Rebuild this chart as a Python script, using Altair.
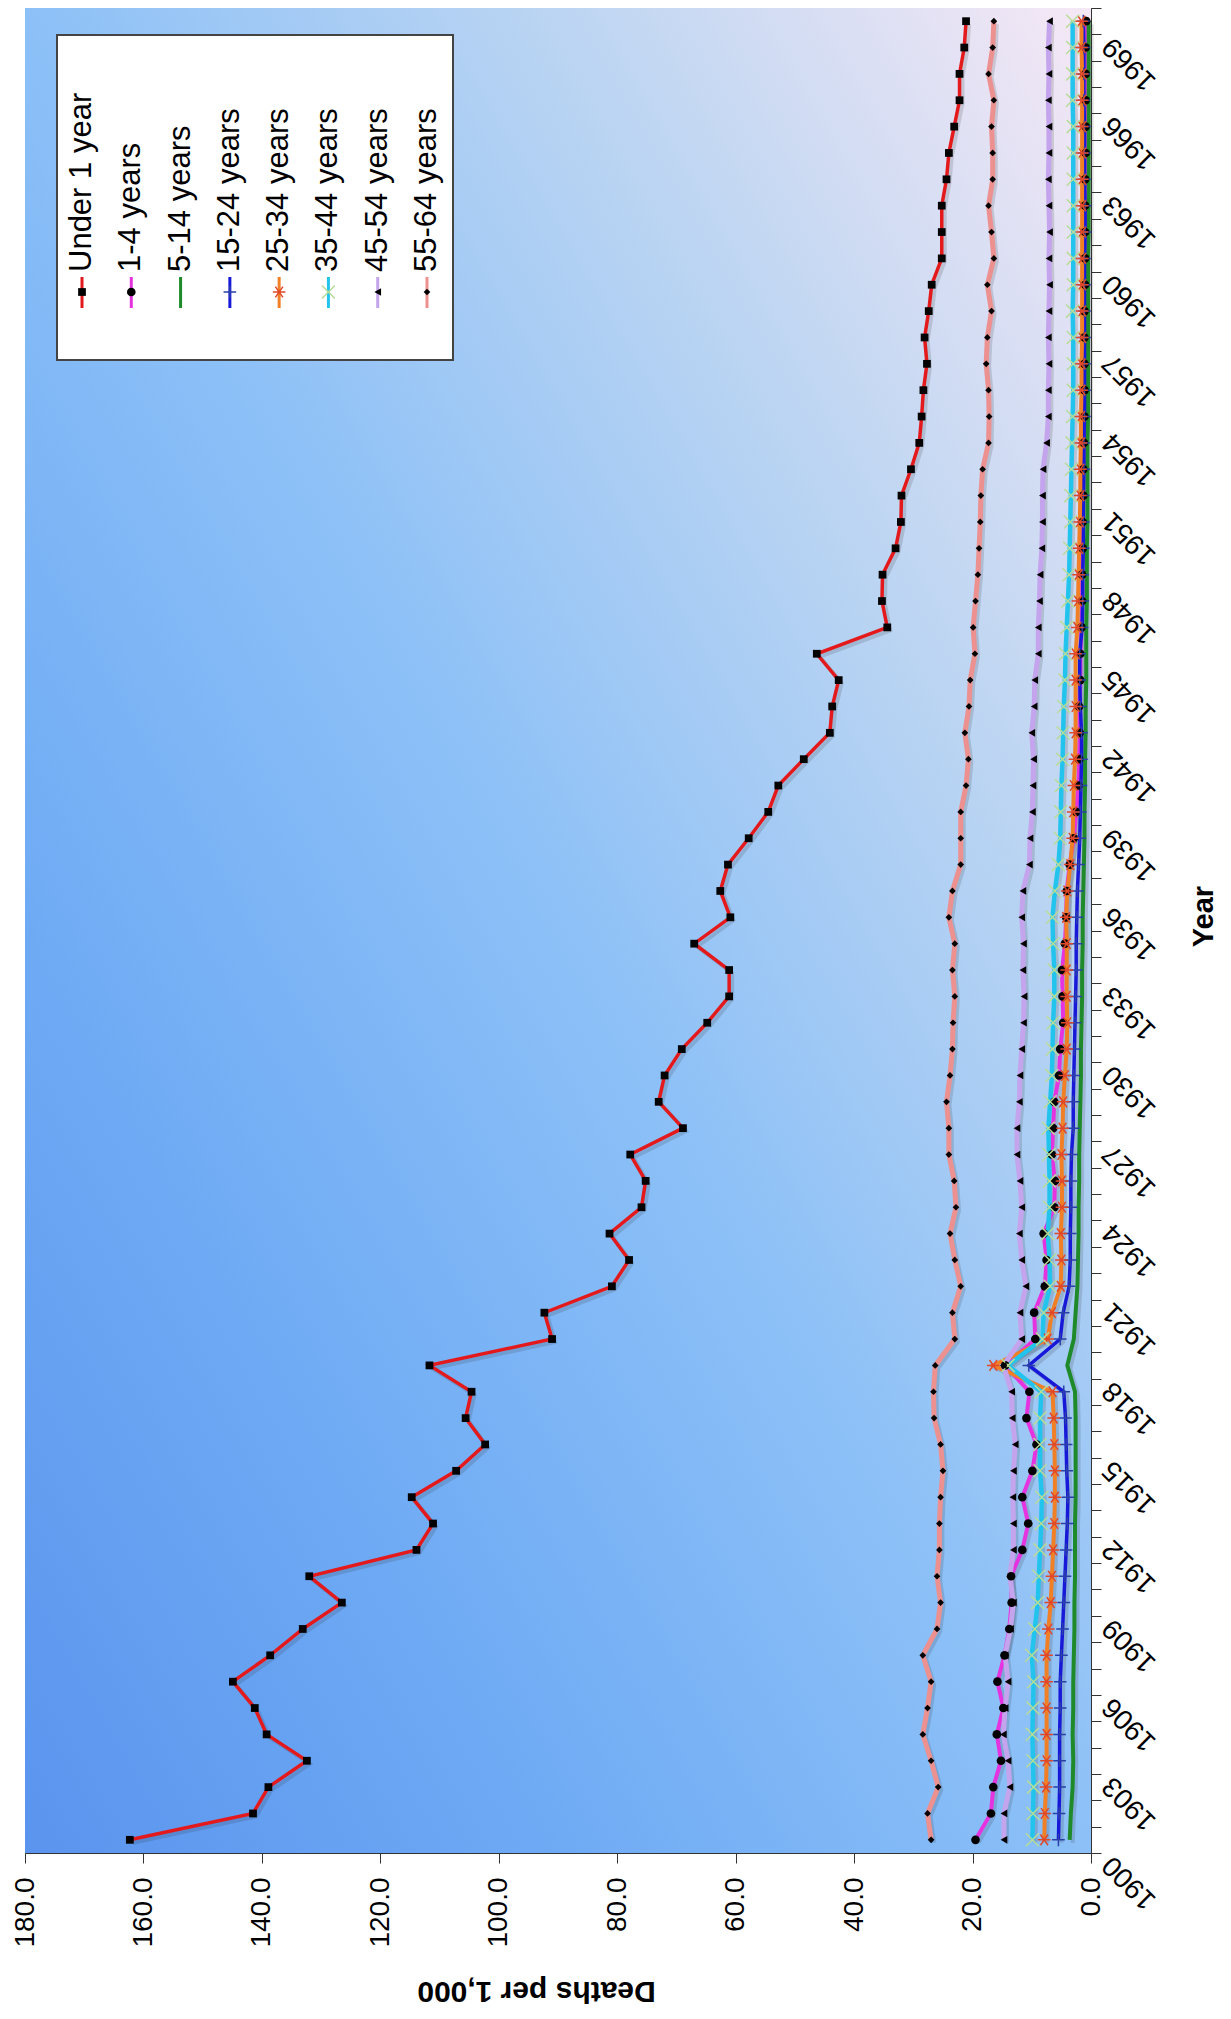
import altair as alt
import pandas as pd

FONT = "Liberation Sans"

years = list(range(1900, 1970))
series_names = ["Under 1 year", "1-4 years", "5-14 years", "15-24 years",
                "25-34 years", "35-44 years", "45-54 years", "55-64 years"]

under_1 = [162.3, 141.5, 138.9, 132.4, 139.2, 141.2, 144.9, 138.6, 133.1, 126.5,
           132.0, 113.9, 111.1, 114.7, 107.2, 102.3, 105.6, 104.6, 111.7, 91.0,
           92.3, 80.9, 78.0, 81.3, 75.9, 75.2, 77.8, 68.9, 73.0, 72.0,
           69.1, 64.8, 61.1, 61.1, 67.0, 60.9, 62.6, 61.3, 57.8, 54.5,
           52.8, 48.5, 44.1, 43.7, 42.6, 46.3, 34.4, 35.3, 35.2, 33.0,
           32.1, 32.0, 30.4, 29.0, 28.6, 28.3, 27.7, 28.1, 27.4, 26.9,
           25.2, 25.2, 25.2, 24.4, 24.0, 23.1, 22.2, 22.2, 21.4, 21.1]
age_1_4 = [19.5, 16.9, 16.5, 15.2, 15.9, 14.8, 15.8, 14.6, 13.8, 13.4,
           13.5, 11.6, 10.6, 11.6, 9.9, 9.2, 10.9, 10.4, 14.5, 9.4,
           9.6, 7.8, 7.5, 8.0, 6.2, 6.1, 6.6, 6.4, 6.2, 5.4,
           5.2, 4.7, 4.8, 4.9, 4.4, 4.2, 4.1, 3.6, 2.9, 2.5,
           2.1, 2.0, 1.9, 2.0, 1.8, 1.8, 1.6, 1.5, 1.5, 1.4,
           1.4, 1.3, 1.3, 1.2, 1.1, 1.1, 1.1, 1.1, 1.1, 1.0,
           1.0, 1.0, 1.0, 1.0, 0.9, 0.9, 0.9, 0.9, 0.9, 0.8]
age_5_14 = [3.6, 3.4, 3.1, 3.0, 3.1, 3.0, 3.0, 2.9, 2.8, 2.8,
            2.7, 2.7, 2.7, 2.6, 2.6, 2.6, 2.6, 2.7, 4.0, 2.9,
            2.6, 2.3, 2.2, 2.1, 2.1, 2.0, 2.0, 1.9, 1.8, 1.7,
            1.7, 1.6, 1.5, 1.5, 1.4, 1.4, 1.3, 1.2, 1.1, 1.1,
            1.0, 1.0, 0.9, 0.9, 0.8, 0.8, 0.8, 0.7, 0.7, 0.7,
            0.6, 0.6, 0.6, 0.6, 0.5, 0.5, 0.5, 0.5, 0.5, 0.5,
            0.5, 0.4, 0.4, 0.4, 0.4, 0.4, 0.4, 0.4, 0.4, 0.4]
age_15_24 = [5.5, 5.4, 5.3, 5.3, 5.3, 5.2, 5.2, 5.0, 4.8, 4.6,
             4.4, 4.2, 4.0, 3.9, 4.1, 4.2, 4.3, 4.6, 10.5, 5.2,
             4.7, 3.7, 3.5, 3.5, 3.4, 3.4, 3.3, 3.0, 3.0, 2.9,
             2.8, 2.7, 2.6, 2.5, 2.5, 2.4, 2.3, 2.1, 1.9, 1.8,
             1.7, 1.6, 1.6, 1.8, 1.9, 1.9, 1.5, 1.4, 1.4, 1.3,
             1.3, 1.3, 1.2, 1.2, 1.1, 1.1, 1.1, 1.1, 1.1, 1.1,
             1.1, 1.0, 1.0, 1.1, 1.1, 1.1, 1.2, 1.2, 1.2, 1.3]
age_25_34 = [7.9, 7.8, 7.6, 7.5, 7.5, 7.5, 7.5, 7.5, 7.2, 6.8,
             6.6, 6.4, 6.2, 6.1, 6.1, 6.2, 6.3, 6.5, 16.5, 7.3,
             6.6, 5.1, 5.0, 5.1, 4.9, 4.9, 5.0, 4.8, 4.7, 4.4,
             4.1, 4.0, 4.1, 4.1, 4.1, 4.2, 4.0, 3.5, 3.1, 3.0,
             2.9, 2.7, 2.6, 2.6, 2.6, 2.6, 2.3, 2.2, 2.1, 2.0,
             1.9, 1.8, 1.8, 1.7, 1.7, 1.6, 1.6, 1.5, 1.5, 1.5,
             1.5, 1.5, 1.5, 1.5, 1.5, 1.5, 1.5, 1.5, 1.6, 1.6]
age_35_44 = [9.9, 9.8, 9.7, 9.8, 9.9, 9.8, 9.7, 10.0, 9.5, 9.0,
             8.8, 8.6, 8.4, 8.3, 8.6, 8.6, 8.6, 8.4, 14.0, 8.2,
             8.0, 6.9, 7.0, 7.3, 7.0, 7.0, 7.1, 7.2, 6.9, 6.6,
             6.5, 6.4, 6.2, 6.2, 6.4, 6.5, 6.1, 5.5, 5.2, 5.1,
             5.0, 4.8, 4.7, 4.6, 4.4, 4.3, 4.1, 3.9, 3.7, 3.6,
             3.5, 3.4, 3.3, 3.2, 3.1, 3.0, 3.0, 3.0, 3.1, 3.0,
             3.0, 3.0, 3.0, 3.0, 3.0, 3.0, 3.1, 3.1, 3.1, 3.1]
age_45_54 = [14.7, 14.7, 13.7, 14.0, 14.8, 14.5, 14.0, 14.5, 13.6, 13.1,
             13.7, 13.1, 13.1, 13.2, 13.1, 12.8, 13.3, 13.4, 14.8, 11.7,
             12.0, 11.0, 11.7, 12.1, 11.7, 12.0, 12.5, 12.5, 12.1, 12.0,
             11.7, 11.4, 11.3, 11.5, 11.4, 11.7, 11.5, 10.4, 10.3, 9.9,
             9.8, 9.7, 10.0, 9.6, 9.5, 8.9, 8.9, 8.7, 8.6, 8.3,
             8.2, 8.2, 8.1, 7.5, 7.2, 7.2, 7.1, 7.2, 7.1, 7.0,
             7.1, 7.0, 7.1, 7.2, 7.1, 7.1, 7.2, 7.1, 7.2, 7.0]
age_55_64 = [27.0, 27.6, 25.8, 27.0, 28.4, 27.6, 27.0, 28.4, 26.0, 25.4,
             26.0, 25.6, 25.6, 25.4, 25.0, 25.4, 26.5, 26.6, 26.3, 23.0,
             23.4, 22.0, 23.0, 23.8, 22.8, 23.1, 24.0, 24.0, 24.4, 23.8,
             23.4, 23.3, 23.0, 23.4, 23.0, 24.0, 23.4, 22.0, 22.0, 22.0,
             21.1, 20.7, 21.3, 20.6, 20.4, 19.6, 19.9, 19.5, 19.1, 18.9,
             18.7, 18.6, 18.3, 17.3, 17.2, 17.3, 17.7, 17.5, 16.8, 17.5,
             16.4, 16.8, 17.3, 16.6, 16.6, 16.8, 16.4, 17.3, 16.6, 16.4]

all_series = [under_1, age_1_4, age_5_14, age_15_24,
              age_25_34, age_35_44, age_45_54, age_55_64]

x_ticks = list(range(0, 181, 20))
year_labels = list(range(1900, 1970, 3))
year_edges = [1899.5 + i for i in range(71)]

# styles
line_colors = ["#e3191c", "#e633e0", "#1e8a2a", "#1818d8",
               "#f07f26", "#22c4ee", "#c4a4ec", "#ec9090"]
line_widths = [3.5, 4, 4, 3.5, 4, 4.5, 5, 5]
PLUS = "M-1,0L1,0M0,-1L0,1"
STAR = "M-1,0L1,0M-0.6,-0.85L0.6,0.85M-0.6,0.85L0.6,-0.85"
XMARK = "M-1,-1L1,1M-1,1L1,-1"
marker_styles = {
    "Under 1 year": dict(shape="square", filled=True, color="#000000", size=60),
    "1-4 years": dict(shape="circle", filled=True, color="#000000", size=75),
    "15-24 years": dict(shape=PLUS, filled=False, color="#2a40a8", size=160, strokeWidth=1.5),
    "25-34 years": dict(shape=STAR, filled=False, color="#e04828", size=160, strokeWidth=1.5),
    "35-44 years": dict(shape=XMARK, filled=False, color="#b8dc98", size=170, strokeWidth=1.5),
    "45-54 years": dict(shape="triangle-left", filled=True, color="#000000", size=60),
    "55-64 years": dict(shape="diamond", filled=True, color="#000000", size=45),
}

rows = []
for name, vals in zip(series_names, all_series):
    for y, v in zip(years, vals):
        rows.append({"series": name, "year": y, "value": v})
df = pd.DataFrame(rows)

W, H = 1066, 1845

color_enc = alt.Color("series:N", scale=alt.Scale(domain=series_names, range=line_colors), legend=None)

x_axis_main = alt.Axis(values=x_ticks, format=".1f", labelAngle=270, labelAlign="right",
                       labelBaseline="middle", labelFontSize=28, labelFont=FONT,
                       labelColor="#000000", labelPadding=14, tickSize=10,
                       tickColor="#333333", domainColor="#333333", grid=False,
                       labelFlush=False, labelOverlap=False,
                       title="Deaths per 1,000", titleFont=FONT, titleFontSize=30,
                       titleFontWeight="bold", titleColor="#000000", titleAngle=180,
                       titleX=511, titleY=137, titleAlign="center", titleBaseline="middle")

y_axis_ticks = alt.Axis(orient="right", values=year_edges, labels=False, tickSize=10,
                        tickColor="#333333", domainColor="#333333", grid=False, title=None)

y_axis_labels = alt.Axis(orient="right", values=year_labels, format="d", ticks=False, domain=False,
                         labelAngle=225, labelAlign="right", labelBaseline="middle",
                         labelFontSize=28, labelFont=FONT, labelColor="#000000",
                         labelPadding=16, labelOffset=20, grid=False,
                         labelFlush=False, labelOverlap=False,
                         title="Year", titleFont=FONT, titleFontSize=29,
                         titleFontWeight="bold", titleColor="#000000", titleAngle=270,
                         titleX=112, titleY=908, titleAlign="center", titleBaseline="middle")


def xenc(axis=None):
    return alt.X("value:Q", scale=alt.Scale(domain=[0, 180], reverse=True, nice=False, zero=True),
                 axis=axis)


def yenc(axis=None):
    return alt.Y("year:Q", scale=alt.Scale(domain=[1899.5, 1969.5], nice=False, zero=False),
                 axis=axis)


base = alt.Chart(df)

bg = alt.Chart(pd.DataFrame({"k": [0]})).mark_rect(
    fill=alt.Gradient(gradient="linear", x1=0, y1=1, x2=1, y2=0,
                      stops=[alt.GradientStop(color="#5a94ee", offset=0),
                             alt.GradientStop(color="#6eaaf4", offset=0.25),
                             alt.GradientStop(color="#8cc0f7", offset=0.5),
                             alt.GradientStop(color="#bcd5f2", offset=0.75),
                             alt.GradientStop(color="#f6e8f5", offset=1)])
).encode(x=alt.value(0), x2=alt.value(W), y=alt.value(0), y2=alt.value(H))

shadow = base.mark_line(strokeWidth=4, color="#2a2a2a", opacity=0.16, xOffset=3, yOffset=3).encode(
    x=xenc(), y=yenc(), detail="series:N", order="year:Q")

layers = [bg, shadow]
for i, name in enumerate(series_names):
    ax_x = x_axis_main if i == 0 else None
    ax_y = y_axis_ticks if i == 0 else (y_axis_labels if i == 1 else None)
    layers.append(
        base.transform_filter(alt.datum.series == name)
        .mark_line(strokeWidth=line_widths[i])
        .encode(x=xenc(ax_x), y=yenc(ax_y), color=color_enc, order="year:Q")
    )
for name in series_names:
    if name in marker_styles:
        st = marker_styles[name]
        layers.append(
            base.transform_filter(alt.datum.series == name)
            .mark_point(opacity=1, **st)
            .encode(x=xenc(), y=yenc())
        )

# legend (built from the series list)
leg_df = pd.DataFrame({"series": series_names})
leg_x = alt.X("series:N", scale=alt.Scale(type="point", domain=series_names, range=[57, 402], padding=0),
              axis=None)
leg_box = alt.Chart(pd.DataFrame({"k": [0]})).mark_rect(
    fill="#ffffff", stroke="#444444", strokeWidth=2
).encode(x=alt.value(32), x2=alt.value(428), y=alt.value(27), y2=alt.value(352))
leg_rule = alt.Chart(leg_df).mark_rule(strokeWidth=3).encode(
    x=leg_x, y=alt.value(269), y2=alt.value(300), color=color_enc)
leg_text = alt.Chart(leg_df).mark_text(angle=270, align="left", baseline="middle",
                                       fontSize=31, font=FONT, color="#000000").encode(
    x=leg_x, y=alt.value(264), text="series:N")
layers += [leg_box, leg_rule]
for name in series_names:
    if name in marker_styles:
        st = marker_styles[name]
        layers.append(
            alt.Chart(leg_df).transform_filter(alt.datum.series == name)
            .mark_point(opacity=1, **st)
            .encode(x=leg_x, y=alt.value(284))
        )
layers.append(leg_text)

chart = alt.layer(*layers).resolve_scale(x="independent", y="independent").properties(
    width=W, height=H,
    autosize=alt.AutoSizeParams(type="none"),
    padding={"left": 17, "top": 0, "right": 132, "bottom": 158},
    background="#ffffff",
).configure_view(stroke="#9a9a9a", strokeWidth=1)

chart.save("out.html", embed_options={"renderer": "svg", "actions": False})
